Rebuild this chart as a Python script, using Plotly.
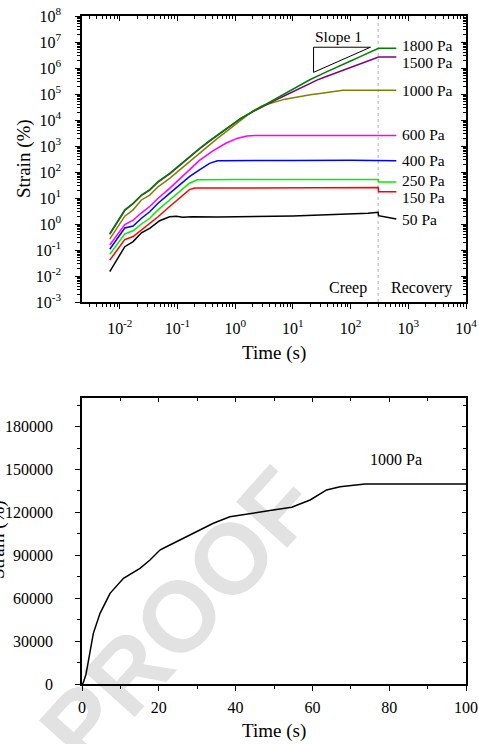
import math
import plotly.graph_objects as go

W, H = 479, 744

# ---------------- data : top panel (creep / recovery, log-log) ----------------
t_50 = [0.0067, 0.0122, 0.017, 0.0237, 0.033, 0.049, 0.073, 0.095, 0.123, 0.18, 0.5, 1, 3, 10, 30, 100, 200, 300, 305, 620]
s_50 = [0.0148, 0.134, 0.21, 0.46, 0.68, 1.34, 1.9, 1.97, 1.83, 1.9, 1.85, 1.88, 1.95, 2.05, 2.2, 2.4, 2.6, 2.8, 2.1, 1.55]

t_150 = [0.0067, 0.0122, 0.017, 0.0237, 0.033, 0.046, 0.073, 0.108, 0.161, 0.2, 0.5, 1, 10, 100, 300, 305, 620]
s_150 = [0.041, 0.25, 0.33, 0.59, 1.1, 1.9, 4.7, 9.8, 21, 24, 24, 24.5, 25, 25.5, 25.5, 17.5, 17.5]

t_250 = [0.0067, 0.0122, 0.017, 0.0237, 0.033, 0.046, 0.073, 0.108, 0.161, 0.22, 0.5, 1, 10, 100, 300, 305, 620]
s_250 = [0.068, 0.42, 0.55, 1.0, 1.66, 3.5, 8.4, 17.4, 37, 50, 51, 51, 51, 52, 52, 41, 41]

t_400 = [0.0067, 0.0122, 0.017, 0.0237, 0.033, 0.046, 0.073, 0.108, 0.161, 0.24, 0.36, 0.49, 1, 10, 100, 300, 305, 620]
s_400 = [0.107, 0.7, 0.83, 1.66, 2.96, 6.3, 15, 31.6, 66, 120, 214, 270, 275, 278, 280, 282, 275, 272]

t_600 = [0.0067, 0.0122, 0.017, 0.0237, 0.033, 0.046, 0.073, 0.108, 0.161, 0.24, 0.41, 0.7, 1.1, 1.6, 2.2, 10, 100, 300, 305, 620]
s_600 = [0.155, 0.95, 1.4, 2.7, 4.7, 9.8, 23.5, 52, 115, 280, 650, 1300, 2000, 2400, 2550, 2550, 2550, 2600, 2550, 2550]

t_1000 = [0.0067, 0.0122, 0.017, 0.0237, 0.033, 0.046, 0.073, 0.108, 0.161, 0.24, 0.36, 0.5, 0.75, 1.0, 1.39,
          2.0, 2.95, 4.7, 7.3, 10.8, 15.1, 17.7, 20.3, 21.2, 25.5, 30.7, 34.2, 38.5, 41.1, 45, 49.8, 54.6, 59.4,
          63.7, 67.2, 73.7, 80, 100, 200, 300, 305, 620]
s_1000 = [0.26, 2.0, 3.5, 8.4, 13, 27, 57, 120, 250, 525, 1100, 2000, 4000, 6500, 12000,
          22000, 35400, 49400, 63400, 73900, 80900, 86700, 93700, 94900, 100700, 107200, 112400, 117000, 118200,
          120000, 121700, 123600, 128700, 135700, 138000, 139900, 140000, 140000, 140500, 140500, 140000, 140000]

t_1500 = [0.0067, 0.0122, 0.017, 0.0237, 0.033, 0.046, 0.073, 0.108, 0.161, 0.24, 0.36, 0.5, 0.75, 1.0, 1.26,
          2, 3, 4.8, 7, 10, 15, 20, 26.7, 35, 50, 70, 100, 150, 200, 300, 305, 620]
s_1500 = [0.4, 3.3, 6.0, 12.5, 20, 41, 85, 178, 375, 770, 1550, 2600, 5000, 7900, 11500,
          20500, 33500, 56000, 84000, 125000, 190000, 270000, 350000, 440000, 590000, 780000, 1050000,
          1500000, 1900000, 2600000, 2620000, 2620000]

t_1800 = [0.0067, 0.0122, 0.017, 0.0237, 0.033, 0.046, 0.073, 0.108, 0.161, 0.24, 0.36, 0.5, 0.75, 1.0, 1.26,
          2, 3, 4.8, 7, 10, 15, 20, 35, 50, 70, 100, 150, 200, 300, 305, 620]
s_1800 = [0.43, 3.5, 6.3, 13, 21, 43, 89, 186, 390, 800, 1600, 2700, 5200, 8200, 11700,
          21000, 35000, 60000, 95000, 150000, 250000, 360000, 650000, 910000, 1280000, 1850000,
          2800000, 3750000, 5700000, 5750000, 5750000]

stress_labels = ["50 Pa", "150 Pa", "250 Pa", "400 Pa", "600 Pa", "1000 Pa", "1500 Pa", "1800 Pa"]
creep_end = 300
slope_t = [22.8, 22.8, 221, 22.8]
slope_s = [6.3e6, 6.8e5, 6.3e6, 6.3e6]

top_xticks = [1e-2, 1e-1, 1e0, 1e1, 1e2, 1e3, 1e4]
top_xtext = ["10<sup>-2</sup>", "10<sup>-1</sup>", "10<sup>0</sup>", "10<sup>1</sup>",
             "10<sup>2</sup>", "10<sup>3</sup>", "10<sup>4</sup>"]
top_yticks = [1e-3, 1e-2, 1e-1, 1e0, 1e1, 1e2, 1e3, 1e4, 1e5, 1e6, 1e7, 1e8]
top_ytext = ["10<sup>-3</sup>", "10<sup>-2</sup>", "10<sup>-1</sup>", "10<sup>0</sup>", "10<sup>1</sup>",
             "10<sup>2</sup>", "10<sup>3</sup>", "10<sup>4</sup>", "10<sup>5</sup>", "10<sup>6</sup>",
             "10<sup>7</sup>", "10<sup>8</sup>"]

# ---------------- styling ----------------
colors = ["#000000", "#ff0000", "#00ee00", "#0000ff", "#ff00ff", "#808000", "#800080", "#008000"]
SERIF = "Liberation Serif"
LW = 1.5

series_t = [t_50, t_150, t_250, t_400, t_600, t_1000, t_1500, t_1800]
series_s = [s_50, s_150, s_250, s_400, s_600, s_1000, s_1500, s_1800]

fig = go.Figure()

# creep / recovery boundary
fig.add_trace(go.Scatter(x=[creep_end, creep_end], y=[1e-3, 1e8], mode="lines",
                         line=dict(color="#b0b0b0", width=1, dash="dot"),
                         xaxis="x", yaxis="y", showlegend=False, hoverinfo="skip"))

for t, s, c, nm in zip(series_t, series_s, colors, stress_labels):
    fig.add_trace(go.Scatter(x=t, y=s, mode="lines", name=nm, line=dict(color=c, width=LW),
                             xaxis="x", yaxis="y", showlegend=False, hoverinfo="skip"))

fig.add_trace(go.Scatter(x=slope_t, y=slope_s, mode="lines", line=dict(color="black", width=1),
                         xaxis="x", yaxis="y", showlegend=False, hoverinfo="skip"))

# bottom panel : 1000 Pa in linear scale
fig.add_trace(go.Scatter(x=t_1000, y=s_1000, mode="lines", line=dict(color="black", width=LW),
                         xaxis="x2", yaxis="y2", showlegend=False, hoverinfo="skip"))

# dummy traces so that the inward-tick overlay axes are drawn
for xa, ya in [("x3", "y"), ("x", "y3"), ("x4", "y2"), ("x2", "y4")]:
    fig.add_trace(go.Scatter(x=[None], y=[None], xaxis=xa, yaxis=ya, showlegend=False, hoverinfo="skip"))

# ---------------- geometry ----------------
L, R = 82, 466
TOP_T, TOP_B = 16, 302
BOT_T, BOT_B = 398, 684
xdom = [L / W, R / W]
ydom_top = [1 - TOP_B / H, 1 - TOP_T / H]
ydom_bot = [1 - BOT_B / H, 1 - BOT_T / H]

tickfont = dict(family=SERIF, size=16, color="black")
xr_top = [-2.655, 4]
yr_top = [-3, 8]

minor_x = [m * 10 ** e for e in range(-3, 4) for m in range(2, 10) if xr_top[0] < math.log10(m * 10 ** e) < xr_top[1]]
minor_y = [m * 10 ** e for e in range(-3, 8) for m in range(2, 10)]

common = dict(showgrid=False, zeroline=False, tickcolor="black", tickwidth=1.2, automargin=False)

layout = dict(
    width=W, height=H, margin=dict(l=0, r=0, t=0, b=0),
    paper_bgcolor="white", plot_bgcolor="rgba(0,0,0,0)",
    showlegend=False,
    xaxis=dict(type="log", domain=xdom, anchor="y", range=xr_top, tickmode="array",
               tickvals=top_xticks, ticktext=top_xtext, ticks="outside", ticklen=5, ticklabelstandoff=6,
               showline=True, linecolor="black", linewidth=1.5, mirror=True, tickfont=tickfont,
               minor=dict(tickmode="array", tickvals=minor_x, ticks="outside", ticklen=3,
                          tickcolor="black", tickwidth=1, showgrid=False), **common),
    yaxis=dict(type="log", domain=ydom_top, anchor="x", range=yr_top, tickmode="array",
               tickvals=top_yticks, ticktext=top_ytext, ticks="outside", ticklen=5, ticklabelstandoff=11,
               showline=True, linecolor="black", linewidth=1.5, mirror=True, tickfont=tickfont,
               minor=dict(tickmode="array", tickvals=minor_y, ticks="outside", ticklen=3,
                          tickcolor="black", tickwidth=1, showgrid=False), **common),
    xaxis3=dict(type="log", overlaying="x", side="top", anchor="y", range=xr_top, tickmode="array",
                tickvals=top_xticks, ticks="inside", ticklen=5, showticklabels=False, showline=False,
                minor=dict(tickmode="array", tickvals=minor_x, ticks="inside", ticklen=3,
                           tickcolor="black", tickwidth=1, showgrid=False), **common),
    yaxis3=dict(type="log", overlaying="y", side="right", anchor="x", range=yr_top, tickmode="array",
                tickvals=top_yticks, ticks="inside", ticklen=5, showticklabels=False, showline=False,
                minor=dict(tickmode="array", tickvals=minor_y, ticks="inside", ticklen=3,
                           tickcolor="black", tickwidth=1, showgrid=False), **common),
    xaxis2=dict(domain=xdom, anchor="y2", range=[0, 100], tickmode="linear", tick0=0, dtick=20,
                ticks="outside", ticklen=5, ticklabelstandoff=3, showline=True, linecolor="black",
                linewidth=1.5, mirror=True, tickfont=tickfont,
                minor=dict(dtick=10, ticks="outside", ticklen=3, tickcolor="black", tickwidth=1, showgrid=False),
                **common),
    yaxis2=dict(domain=ydom_bot, anchor="x2", range=[0, 200000], tickmode="linear", tick0=0, dtick=30000,
                tickformat="d", ticks="outside", ticklen=5, ticklabelstandoff=19, showline=True,
                linecolor="black", linewidth=1.5, mirror=True, tickfont=tickfont,
                minor=dict(dtick=15000, ticks="outside", ticklen=3, tickcolor="black", tickwidth=1, showgrid=False),
                **common),
    xaxis4=dict(overlaying="x2", side="top", anchor="y2", range=[0, 100], tickmode="linear", tick0=0, dtick=20,
                ticks="inside", ticklen=4, showticklabels=False, showline=False,
                minor=dict(dtick=10, ticks="inside", ticklen=3, tickcolor="black", tickwidth=1, showgrid=False),
                **common),
    yaxis4=dict(overlaying="y2", side="right", anchor="x2", range=[0, 200000], tickmode="linear", tick0=0,
                dtick=30000, ticks="inside", ticklen=4, showticklabels=False, showline=False,
                minor=dict(dtick=15000, ticks="inside", ticklen=3, tickcolor="black", tickwidth=1, showgrid=False),
                **common),
)
fig.update_layout(**layout)


def ann(text, xp, yp, size=16, xanchor="center", angle=0):
    fig.add_annotation(text=text, x=xp / W, y=1 - yp / H, xref="paper", yref="paper",
                       xanchor=xanchor, yanchor="middle", showarrow=False, textangle=angle,
                       font=dict(family=SERIF, size=size, color="black"))


# axis titles
ann("Strain (%)", 24, 159, size=19, angle=-90)
ann("Time (s)", 274, 353, size=19)
ann("Strain (%)", -2, 540, size=19, angle=-90)
ann("Time (s)", 274, 731, size=19)

# series labels (top panel)
label_y_px = [219.3, 197.5, 180.5, 160, 135, 90, 62, 46]
for nm, yp in zip(stress_labels, label_y_px):
    ann(nm, 400, yp, size=15.5, xanchor="left")

ann("Slope 1", 338, 36.7, size=15.5)
ann("Creep", 347.5, 288)
ann("Recovery", 421, 288)
ann("1000 Pa", 396, 459.3)

# watermark
fig.add_shape(type="rect", xref="paper", yref="paper",
              x0=122 / W, x1=222 / W, y0=1 - 660 / H, y1=1 - 560 / H,
              line=dict(width=0), fillcolor="rgba(0,0,0,0)", layer="below",
              label=dict(text="PROOF", textangle=-48, textposition="middle center",
                         font=dict(family="Liberation Sans", size=100, color="#e2e2e2", weight=700)))

fig.write_html("out.html")
